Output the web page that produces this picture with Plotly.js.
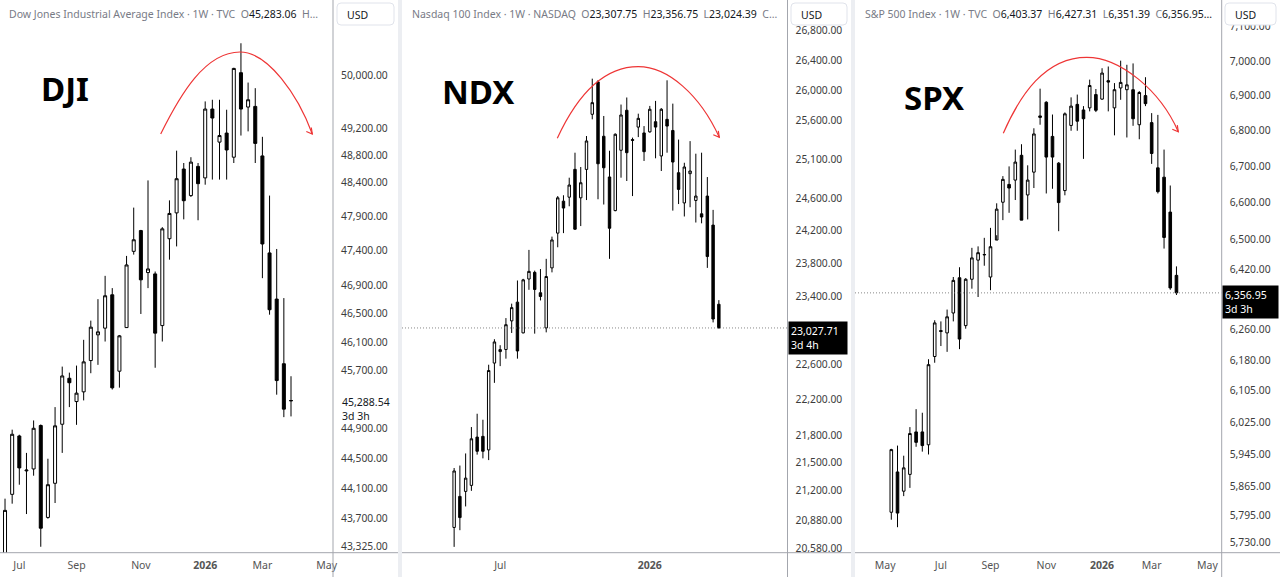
<!DOCTYPE html>
<html><head><meta charset="utf-8">
<script src="https://cdn.plot.ly/plotly-3.0.1.min.js"></script>
<style>html,body{margin:0;padding:0;background:#fff;}#chart{width:1280px;height:577px;}</style>
</head><body><div id="chart"></div>
<script>
// ---------- DATA ----------
const weeks = ['2025-05-12','2025-05-19','2025-05-26','2025-06-02','2025-06-09','2025-06-16','2025-06-23','2025-06-30',
 '2025-07-07','2025-07-14','2025-07-21','2025-07-28','2025-08-04','2025-08-11','2025-08-18','2025-08-25',
 '2025-09-01','2025-09-08','2025-09-15','2025-09-22','2025-09-29','2025-10-06','2025-10-13','2025-10-20','2025-10-27',
 '2025-11-03','2025-11-10','2025-11-17','2025-11-24','2025-12-01','2025-12-08','2025-12-15','2025-12-22','2025-12-29',
 '2026-01-05','2026-01-12','2026-01-19','2026-01-26','2026-02-02','2026-02-09','2026-02-16','2026-02-23',
 '2026-03-02','2026-03-09','2026-03-16','2026-03-23','2026-03-30'];
const djiWeeks = weeks.slice(6);

const djiOpen  = [43180,44015,44803,44330,44356,44946,43707,44163,44963,45596,45274,45408,45842,46202,46296,46768,45694,46304,47390,47690,47085,47066,46332,47572,47947,48591,48200,48630,48460,49485,48990,49125,48766,50035,49515,49525,48785,47367,46707,45798,45283.06];
const djiHigh  = [43957,44889,44820,44573,45015,44960,44494,45198,45758,45674,45772,46132,46402,46706,47038,46863,46200,47324,48024,47700,48423,47100,47740,48130,48863,48680,48766,48680,49600,49625,49625,49475,50110,50485,49885,49800,49069,48200,47424,46721,45624];
const djiLow   = [43100,43890,44144,43752,44265,43319,43690,43899,44573,45198,44955,45290,45666,45782,46108,45440,45466,46300,47343,46496,46863,45742,46108,47270,47461,47853,48180,47840,48360,48435,48435,48435,48680,49088,49150,48680,47005,46486,45369,45060,45070];
const djiClose = [43801,44826,44370,44340,44908,43564,44144,44941,45628,45534,45390,45824,46310,46244,46754,45464,46188,47194,47557,46981,47137,46226,47715,47939,48448,48125,48693,48375,49485,49350,49088,48873,50100,49485,49625,48971,47496,46556,45564,45170,45288.54];

const ndxOpen  = [20800,21132,21186,21251,21781,21789,21639,22619,22752,22776,23111,23333,22970,23610,23690,23445,23028,23744,24169,24566,24616,24968,24608,24967,25679,26107,25393,24871,24448,25212,25732,25350,25512,25436,25450,25582,25139,25613,25468,24925,24544,24913,24575,24408,24630,24268,23307.75];
const ndxHigh  = [21440,21467,21600,21893,22042,21975,22600,22896,22826,23144,23315,23592,23612,23963,23711,23730,23854,24126,24630,24640,24862,25181,24998,25396,26150,26130,25657,25206,25430,25807,25900,25375,25687,25525,25789,25855,25760,26128,25819,25350,25052,25330,25168,25181,24870,24457,23356.75];
const ndxLow   = [20595,20771,21024,21192,21587,21546,21527,22392,22584,22670,22969,22670,22965,23480,22961,23353,22976,23690,23995,24169,24502,24210,24256,24580,25613,24590,24524,23854,24440,24862,24820,24630,25382,25075,25440,25109,24947,25181,24448,24530,24375,24490,24300,24290,23744,23093,23024.39];
const ndxClose = [21408,20905,21330,21762,21624,21624,22533,22864,22775,23066,23268,22759,23600,23702,23484,23400,23640,24085,24608,24480,24769,24217,24798,25332,25832,25039,24988,24229,25419,25670,25181,25340,25626,25194,25745,25512,25745,25525,25061,24714,24998,24947,24630,24368,23882,23133,23027.71];

const spxOpen  = [5803,5901,5854,5895,6000,6000,5968,6191,6258,6252,6304,6397,6271,6393,6444,6458,6399,6498,6601,6650,6662,6731,6621,6684,6842,6881,6784,6709,6633,6815,6875,6859,6865,6903,6890,6943,6865,6922,6917,6917,6817,6900,6823,6696,6670,6574,6403.37];
const spxHigh  = [5958,5966,5941,6012,6057,6048,6184,6285,6282,6313,6399,6425,6396,6477,6481,6504,6531,6598,6673,6700,6747,6762,6703,6807,6920,6884,6846,6712,6852,6895,6903,6870,6946,6919,6979,6984,6936,7001,6989,6993,6913,6953,6850,6845,6747,6647,6427.31];
const spxLow   = [5785,5767,5842,5862,5963,5951,5944,6175,6218,6203,6282,6210,6263,6368,6346,6429,6364,6511,6552,6572,6607,6552,6554,6640,6817,6625,6638,6522,6620,6800,6800,6721,6855,6853,6888,6855,6787,6888,6781,6814,6776,6870,6707,6625,6475,6365,6351.39];
const spxClose = [5956,5801,5911,5996,5974,5966,6170,6278,6256,6294,6390,6236,6393,6450,6464,6459,6480,6582,6664,6640,6712,6552,6662,6791,6838,6726,6726,6600,6848,6870,6827,6834,6929,6858,6965,6939,6917,6938,6931,6834,6909,6877,6736,6630,6505,6370,6356.95];

const djiPriceTicks = [50000,49200,48800,48400,47900,47400,46900,46500,46100,45700,44900,44500,44100,43700,43325];
const ndxPriceTicks = [26800,26400,26000,25600,25100,24600,24200,23800,23400,22600,22200,21800,21500,21200,20880,20580];
const spxPriceTicks = [7100,7000,6900,6800,6700,6600,6500,6420,6260,6180,6105,6025,5945,5865,5795,5730];

const djiDateTicks  = ['2025-07-07','2025-09-01','2025-11-03','2026-01-05','2026-03-02','2026-05-04'];
const djiDateLabels = ['Jul','Sep','Nov','<b>2026</b>','Mar','May'];
const ndxDateTicks  = ['2025-07-07','2026-01-05'];
const ndxDateLabels = ['Jul','<b>2026</b>'];
const spxDateTicks  = ['2025-05-05','2025-07-07','2025-09-01','2025-11-03','2026-01-05','2026-03-02','2026-05-04'];
const spxDateLabels = ['May','Jul','Sep','Nov','<b>2026</b>','Mar','May'];

const countdown = ['3d 3h','3d 4h','3d 3h'];

// ---------- LAYOUT HELPERS ----------
const W = 1280, H = 577, PLOT_TOP = 0, PLOT_BOTTOM = 552.7;
const px = x => x / W;
const py = y => 1 - y / H;
const fmt = v => v.toLocaleString('en-US', {minimumFractionDigits: 2, maximumFractionDigits: 2});
function logRange(v1, y1, v2, y2) {
  const k = (y2 - y1) / (Math.log10(v1) - Math.log10(v2));
  return [Math.log10(v1) - (PLOT_BOTTOM - y1) / k, Math.log10(v1) + (y1 - PLOT_TOP) / k];
}
const FONT = 'Noto Sans, Open Sans, sans-serif';
const yDomain = [1 - PLOT_BOTTOM / H, 1];

const djiXRange = ['2025-06-18 02:00', '2026-05-10 03:00'];
const ndxXRange = ['2025-03-09 14:00', '2026-06-21 12:00'];
const spxXRange = ['2025-04-01 00:00', '2026-05-20 02:00'];

function candle(x, o, h, l, c, xa, ya) {
  return {type: 'candlestick', x: x, open: o, high: h, low: l, close: c, xaxis: xa, yaxis: ya,
    whiskerwidth: 0, hoverinfo: 'skip',
    increasing: {line: {color: '#000', width: 1}, fillcolor: '#ffffff'},
    decreasing: {line: {color: '#000', width: 1}, fillcolor: '#000000'}};
}
function priceLine(range, v, xa, ya) {
  return {type: 'scatter', mode: 'lines', x: range, y: [v, v], xaxis: xa, yaxis: ya,
    line: {color: '#6b6b6b', width: 0.8, dash: '1px,2px'}, hoverinfo: 'skip'};
}
const last = a => a[a.length - 1];

const data = [
  priceLine(ndxXRange, last(ndxClose), 'x2', 'y2'),
  priceLine(spxXRange, last(spxClose), 'x3', 'y3'),
  candle(djiWeeks, djiOpen, djiHigh, djiLow, djiClose, 'x', 'y'),
  candle(weeks, ndxOpen, ndxHigh, ndxLow, ndxClose, 'x2', 'y2'),
  candle(weeks, spxOpen, spxHigh, spxLow, spxClose, 'x3', 'y3')
];

function xAxis(domain, range, tv, tt, anchor) {
  return {domain: domain, anchor: anchor, type: 'date', range: range, tickmode: 'array', tickvals: tv, ticktext: tt,
    showgrid: false, zeroline: false, showline: false, ticks: '', rangeslider: {visible: false},
    tickfont: {family: FONT, size: 10.5, color: '#555'}, ticklabelstandoff: 5, fixedrange: true};
}
function yAxis(range, tv, anchor) {
  return {domain: yDomain, anchor: anchor, side: 'right', type: 'log', range: range, tickmode: 'array',
    tickvals: tv, ticktext: tv.map(fmt), showgrid: false, zeroline: false, showline: false, ticks: '',
    tickfont: {family: FONT, size: 10.3, color: '#3c3c3c'}, ticklabelstandoff: 7, fixedrange: true};
}

// decorative shapes
const shapes = [];
const grey = '#a3a6ad';
[333, 787.5, 1221.7].forEach(x => shapes.push({type: 'line', xref: 'paper', yref: 'paper', x0: px(x), x1: px(x), y0: 0, y1: 1, line: {color: grey, width: 1}, layer: 'above'}));
[[0, 398], [402, 851], [855, 1280]].forEach(s => shapes.push({type: 'line', xref: 'paper', yref: 'paper', x0: px(s[0]), x1: px(s[1]), y0: py(PLOT_BOTTOM), y1: py(PLOT_BOTTOM), line: {color: grey, width: 1}, layer: 'above'}));
[[398, 402], [851, 855]].forEach(s => shapes.push({type: 'rect', xref: 'paper', yref: 'paper', x0: px(s[0]), x1: px(s[1]), y0: 0, y1: 1, fillcolor: '#eceef2', line: {width: 0}, layer: 'above'}));
function roundRect(x0, y0, x1, y1, r) {
  const P = (x, y) => px(x) + ',' + py(y);
  return 'M' + P(x0 + r, y0) + ' L' + P(x1 - r, y0) + ' Q' + P(x1, y0) + ' ' + P(x1, y0 + r) +
    ' L' + P(x1, y1 - r) + ' Q' + P(x1, y1) + ' ' + P(x1 - r, y1) + ' L' + P(x0 + r, y1) +
    ' Q' + P(x0, y1) + ' ' + P(x0, y1 - r) + ' L' + P(x0, y0 + r) + ' Q' + P(x0, y0) + ' ' + P(x0 + r, y0) + ' Z';
}
[[337, 394], [791, 847], [1225, 1276]].forEach(s => shapes.push({type: 'path', xref: 'paper', yref: 'paper', path: roundRect(s[0], 3, s[1], 25, 4), fillcolor: '#ffffff', line: {color: '#e0e3eb', width: 1}, layer: 'above'}));

function arc(pts) {
  const P = p => px(p[0]) + ',' + py(p[1]);
  return 'M' + P(pts[0]) + ' C' + P(pts[1]) + ' ' + P(pts[2]) + ' ' + P(pts[3]) + ' C' + P(pts[4]) + ' ' + P(pts[5]) + ' ' + P(pts[6]);
}
function arrowHead(tip) {
  const P = p => px(p[0]) + ',' + py(p[1]);
  return 'M' + P([tip[0] - 6, tip[1] - 2.5]) + ' L' + P(tip) + ' L' + P([tip[0] - 1, tip[1] - 6.5]);
}
const red = '#ee3535';
const arcs = [
  [[160.7, 134], [180, 95], [205, 52], [240, 52], [268, 52], [298, 95], [312.3, 134]],
  [[557.3, 138.3], [575, 100], [600, 66.7], [638.3, 66.7], [668, 66.7], [700, 95], [719.3, 137.3]],
  [[1003.3, 133.3], [1020, 95], [1045, 57.3], [1086.7, 57.3], [1120, 57.3], [1160, 90], [1178.3, 131.7]]
];
arcs.forEach(a => {
  shapes.push({type: 'path', xref: 'paper', yref: 'paper', path: arc(a), line: {color: red, width: 1.2}, layer: 'above'});
  shapes.push({type: 'path', xref: 'paper', yref: 'paper', path: arrowHead(a[6]), line: {color: red, width: 1.2}, layer: 'above'});
});

const G = '#787b86', D = '#131722', S = '\u00a0';
const span = (c, t) => '<span style="color:' + c + '">' + t + '</span>';
const annotations = [
  {text: span(G, 'Dow Jones Industrial Average Index · 1W · TVC' + S + S + 'O') + span(D, '45,283.06') + span(G, S + S + 'H…'),
   x: px(7), y: py(14)},
  {text: span(G, 'Nasdaq 100 Index · 1W · NASDAQ' + S + S + 'O') + span(D, '23,307.75') + span(G, S + S + 'H') + span(D, '23,356.75') + span(G, S + S + 'L') + span(D, '23,024.39') + span(G, S + S + 'C…'),
   x: px(410), y: py(14)},
  {text: span(G, 'S&amp;P 500 Index · 1W · TVC' + S + S + 'O') + span(D, '6,403.37') + span(G, S + S + 'H') + span(D, '6,427.31') + span(G, S + S + 'L') + span(D, '6,351.39') + span(G, S + S + 'C') + span(D, '6,356.95…'),
   x: px(862.7), y: py(14)}
].map(a => Object.assign(a, {xref: 'paper', yref: 'paper', xanchor: 'left', yanchor: 'middle', showarrow: false, font: {family: FONT, size: 10.5, color: G}}));

[[65, 88, 'DJI'], [477.5, 91.5, 'NDX'], [934, 97.5, 'SPX']].forEach(b => annotations.push({
  text: '<b>' + b[2] + '</b>', x: px(b[0]), y: py(b[1]), xref: 'paper', yref: 'paper', xanchor: 'center', yanchor: 'middle',
  showarrow: false, font: {family: FONT, size: 33, color: '#000'}}));

[[345, 'USD'], [799, 'USD'], [1233, 'USD']].forEach(b => annotations.push({
  text: b[1], x: px(b[0]), y: py(14.5), xref: 'paper', yref: 'paper', xanchor: 'left', yanchor: 'middle',
  showarrow: false, font: {family: FONT, size: 10.5, color: D}}));

annotations.push({text: fmt(last(djiClose)) + '<br>' + countdown[0], xref: 'paper', x: px(340), xanchor: 'left',
  yref: 'y', y: Math.log10(last(djiClose)), yanchor: 'top', yshift: 8, align: 'left', showarrow: false,
  font: {family: FONT, size: 10.5, color: D}, borderpad: 1});
annotations.push({text: fmt(last(ndxClose)) + '<br>' + countdown[1], xref: 'paper', x: px(788), xanchor: 'left',
  yref: 'y2', y: Math.log10(last(ndxClose)), yanchor: 'top', yshift: 7, align: 'left', showarrow: false,
  bgcolor: '#000', width: 54, borderpad: 2, font: {family: FONT, size: 10.5, color: '#fff'}});
annotations.push({text: fmt(last(spxClose)) + '<br>' + countdown[2], xref: 'paper', x: px(1222.2), xanchor: 'left',
  yref: 'y3', y: Math.log10(last(spxClose)), yanchor: 'top', yshift: 7.5, align: 'left', showarrow: false,
  bgcolor: '#000', width: 51, borderpad: 2, font: {family: FONT, size: 10.5, color: '#fff'}});

const layout = {
  width: W, height: H, margin: {l: 0, r: 0, t: 0, b: 0}, paper_bgcolor: '#fff', plot_bgcolor: '#fff',
  showlegend: false, boxgap: 0.4, dragmode: false,
  xaxis:  xAxis([0, px(333)], djiXRange, djiDateTicks, djiDateLabels, 'y'),
  xaxis2: xAxis([px(402), px(787.5)], ndxXRange, ndxDateTicks, ndxDateLabels, 'y2'),
  xaxis3: xAxis([px(855), px(1221.7)], spxXRange, spxDateTicks, spxDateLabels, 'y3'),
  yaxis:  yAxis(logRange(50000, 75, 43325, 546.3), djiPriceTicks, 'x'),
  yaxis2: yAxis(logRange(26400, 60, 20580, 548.3), ndxPriceTicks, 'x2'),
  yaxis3: yAxis(logRange(7000, 61, 5730, 542.7), spxPriceTicks, 'x3'),
  shapes: shapes, annotations: annotations
};
Plotly.newPlot('chart', data, layout, {displayModeBar: false, staticPlot: true});
</script></body></html>
